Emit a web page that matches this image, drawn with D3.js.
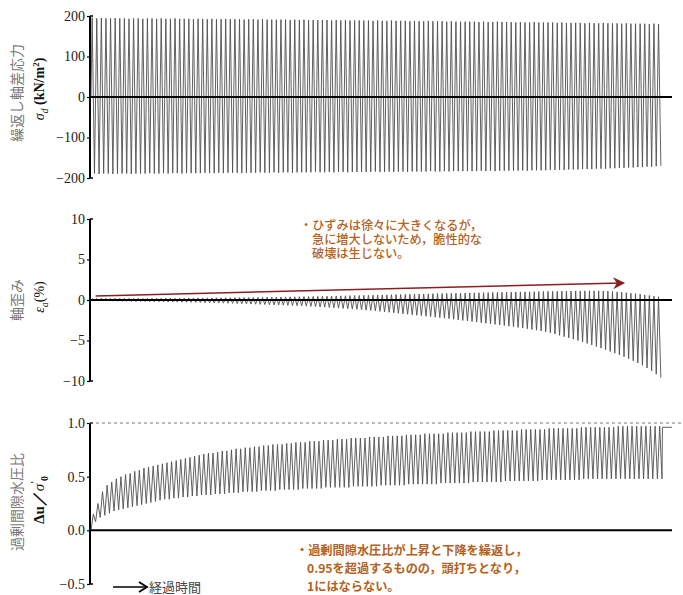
<!DOCTYPE html>
<html><head><meta charset="utf-8">
<script src="https://cdn.jsdelivr.net/npm/d3@7"></script>
<style>
body{margin:0;background:#fff;}
svg{display:block;}
</style></head>
<body><svg id="c" width="683" height="595"></svg>
<script>
// ---- data (per loading cycle) ----
const stressTicks = [200, 100, 0, -100, -200];
const strainTicks = [10, 5, 0, -5, -10];
const poreTicks = [1.0, 0.5, 0.0, -0.5];

const stressMax = [196,194,195,194,194,195,194,194,193,194,
194,193,194,194,193,194,193,193,194,193,
193,193,192,193,193,192,193,192,192,193,
192,192,192,191,192,192,191,192,191,191,
191,191,191,190,191,190,191,190,190,190,
190,190,189,190,189,190,189,189,189,189,
189,188,189,188,188,189,188,188,188,187,
188,187,187,188,187,187,187,186,187,186,
186,186,186,186,185,186,185,185,186,185,
185,185,184,185,184,184,185,184,184,184,
184,183,184,183,183,183,183,182,183,182,
182,183,182,182,182,181,182,181,181,181,
181,180,181,180];
const stressMin = [-189,-190,-189,-189,-190,-189,-189,-189,-190,-189,
-189,-189,-188,-189,-189,-188,-189,-188,-188,-189,
-188,-188,-188,-188,-187,-188,-188,-187,-188,-187,
-187,-187,-188,-187,-187,-187,-186,-187,-187,-186,
-187,-186,-186,-187,-186,-186,-186,-186,-185,-186,
-186,-185,-186,-185,-185,-186,-185,-185,-185,-185,
-185,-184,-185,-185,-184,-185,-184,-184,-185,-184,
-184,-184,-184,-183,-184,-184,-183,-184,-183,-183,
-183,-183,-183,-183,-182,-183,-182,-183,-182,-182,
-182,-182,-182,-181,-182,-181,-181,-181,-181,-180,
-180,-180,-180,-179,-179,-179,-178,-178,-178,-177,
-177,-177,-176,-176,-175,-175,-174,-174,-173,-173,
-172,-172,-171,-170];

const strainMax = [0.15,0.18,0.2,0.2,0.2,0.21,0.2,0.21,0.21,0.2,
0.21,0.21,0.22,0.21,0.22,0.22,0.22,0.23,0.22,0.23,
0.23,0.24,0.24,0.25,0.25,0.26,0.26,0.27,0.27,0.28,
0.28,0.29,0.3,0.3,0.31,0.32,0.32,0.33,0.34,0.35,
0.36,0.37,0.38,0.39,0.4,0.41,0.42,0.43,0.44,0.45,
0.46,0.47,0.48,0.5,0.51,0.52,0.54,0.55,0.56,0.58,
0.59,0.6,0.62,0.63,0.64,0.66,0.67,0.68,0.7,0.71,
0.72,0.74,0.75,0.76,0.78,0.79,0.8,0.82,0.83,0.84,
0.85,0.87,0.88,0.89,0.9,0.91,0.92,0.94,0.95,0.96,
0.97,0.98,0.99,1.0,1.01,1.02,1.03,1.04,1.05,1.06,
1.07,1.08,1.09,1.1,1.1,1.11,1.12,1.12,1.13,1.13,
1.13,1.12,1.1,1.06,1.0,0.95,0.9,0.84,0.78,0.72,
0.64,0.56,0.48,0.4];
const strainMin = [-0.05,-0.1,-0.12,-0.12,-0.14,-0.15,-0.15,-0.16,-0.17,-0.18,
-0.18,-0.19,-0.2,-0.21,-0.22,-0.23,-0.24,-0.25,-0.26,-0.27,
-0.28,-0.29,-0.3,-0.31,-0.33,-0.34,-0.36,-0.37,-0.39,-0.4,
-0.42,-0.44,-0.46,-0.48,-0.5,-0.52,-0.54,-0.56,-0.58,-0.6,
-0.62,-0.64,-0.66,-0.68,-0.7,-0.73,-0.76,-0.79,-0.82,-0.85,
-0.88,-0.92,-0.96,-1.0,-1.04,-1.08,-1.12,-1.16,-1.2,-1.25,
-1.3,-1.35,-1.4,-1.46,-1.52,-1.58,-1.64,-1.7,-1.76,-1.82,
-1.88,-1.94,-2.0,-2.06,-2.12,-2.18,-2.24,-2.31,-2.38,-2.45,
-2.52,-2.59,-2.66,-2.73,-2.8,-2.87,-2.94,-3.01,-3.08,-3.15,
-3.23,-3.31,-3.39,-3.47,-3.55,-3.64,-3.73,-3.82,-3.92,-4.05,
-4.2,-4.36,-4.52,-4.68,-4.84,-5.0,-5.18,-5.36,-5.55,-5.74,
-5.94,-6.14,-6.35,-6.56,-6.78,-7.0,-7.25,-7.5,-7.78,-8.06,
-8.4,-8.75,-9.15,-9.6];

const poreMax = [0.15,0.25,0.36,0.42,0.45,0.48,0.5,0.52,0.53,0.55,
0.56,0.58,0.59,0.6,0.61,0.62,0.63,0.64,0.65,0.66,
0.67,0.68,0.69,0.7,0.71,0.72,0.72,0.73,0.74,0.74,
0.75,0.76,0.76,0.77,0.77,0.78,0.78,0.79,0.79,0.8,
0.8,0.8,0.81,0.81,0.82,0.82,0.82,0.83,0.83,0.83,
0.84,0.84,0.84,0.85,0.85,0.85,0.86,0.86,0.86,0.86,
0.87,0.87,0.87,0.87,0.88,0.88,0.88,0.88,0.89,0.89,
0.89,0.89,0.9,0.9,0.9,0.9,0.9,0.91,0.91,0.91,
0.91,0.91,0.92,0.92,0.92,0.92,0.92,0.93,0.93,0.93,
0.93,0.93,0.93,0.94,0.94,0.94,0.94,0.94,0.94,0.95,
0.95,0.95,0.95,0.95,0.95,0.95,0.96,0.96,0.96,0.96,
0.96,0.96,0.96,0.96,0.97,0.97,0.97,0.97,0.97,0.97,
0.97,0.97,0.97,0.97];
const poreMin = [0.0,0.08,0.12,0.14,0.16,0.18,0.19,0.2,0.21,0.22,
0.23,0.24,0.25,0.26,0.27,0.28,0.29,0.29,0.3,0.3,
0.31,0.31,0.32,0.32,0.33,0.33,0.33,0.34,0.34,0.34,
0.35,0.35,0.35,0.36,0.36,0.36,0.36,0.37,0.37,0.37,
0.37,0.38,0.38,0.38,0.38,0.38,0.39,0.39,0.39,0.39,
0.39,0.4,0.4,0.4,0.4,0.4,0.4,0.41,0.41,0.41,
0.41,0.41,0.41,0.42,0.42,0.42,0.42,0.42,0.42,0.43,
0.43,0.43,0.43,0.43,0.43,0.43,0.44,0.44,0.44,0.44,
0.44,0.44,0.44,0.45,0.45,0.45,0.45,0.45,0.45,0.45,
0.46,0.46,0.46,0.46,0.46,0.46,0.46,0.46,0.47,0.47,
0.47,0.47,0.47,0.47,0.47,0.47,0.47,0.48,0.48,0.48,
0.48,0.48,0.48,0.48,0.48,0.48,0.48,0.48,0.48,0.48,
0.48,0.48,0.48,0.48];
const poreEnd = 0.96;

const nCycles = stressMax.length;

// ---- drawing ----
const svg = d3.select("#c");
const xL = 90, xR = 672, xWaveEnd = 662;
const x = d3.scaleLinear().domain([0, nCycles]).range([91, xWaveEnd]);
const xTail = d3.scaleLinear().domain([nCycles, nCycles + 2.2]).range([xWaveEnd, xR]);

const yS = d3.scaleLinear().domain([-200, 200]).range([178, 16]);
const yE = d3.scaleLinear().domain([-10, 10]).range([381, 219]);
const yP = d3.scaleLinear().domain([-0.5, 1.0]).range([584, 423]);

const minus = s => String(s).replace("-", "\u2212");
const serif = "'Liberation Serif','DejaVu Serif',serif";
const jp = "'Noto Sans CJK JP','Noto Sans',sans-serif";

function zig(maxArr, minArr, startVal) {
  const pts = [[0, startVal]];
  maxArr.forEach((v, i) => {
    pts.push([i + 0.25, v]);
    pts.push([i + 0.75, minArr[i]]);
  });
  return pts;
}
function zigPore(maxArr, minArr) {
  const pts = [];
  minArr.forEach((v, i) => {
    pts.push([i, v]);
    pts.push([i + 0.5, maxArr[i]]);
  });
  pts.push([nCycles, minArr[nCycles - 1]]);
  return pts;
}

function drawAxis(scale, ticks, fmt) {
  const g = svg.append("g").attr("transform", `translate(${xL},0)`);
  const ax = d3.axisLeft(scale).tickValues(ticks).tickSize(3).tickPadding(2).tickFormat(fmt);
  g.call(ax);
  g.attr("font-family", null);
  g.select(".domain").remove();
  g.selectAll(".tick line").attr("stroke", "#000").attr("stroke-width", 1.2);
  g.selectAll(".tick text").style("font-family", serif).style("font-size", "14px").attr("fill", "#222");
  const r = scale.range();
  g.append("line").attr("x1", 0).attr("x2", 0).attr("y1", r[1]).attr("y2", r[0])
    .attr("stroke", "#000").attr("stroke-width", 2);
  [r[0], r[1]].forEach(yy => g.append("line").attr("x1", 0).attr("x2", 3).attr("y1", yy).attr("y2", yy)
    .attr("stroke", "#000").attr("stroke-width", 1.5));
  return g;
}

const waveStroke = "#505050";
const waveW = 0.9;

// ---- top panel ----
drawAxis(yS, stressTicks, d => minus(d));
svg.append("path")
  .datum(zig(stressMax, stressMin, 0))
  .attr("fill", "none").attr("stroke", waveStroke).attr("stroke-width", waveW)
  .attr("d", d3.line().x(d => x(d[0])).y(d => yS(d[1])));
svg.append("line").attr("x1", xL).attr("x2", xR).attr("y1", yS(0)).attr("y2", yS(0))
  .attr("stroke", "#000").attr("stroke-width", 2);

// ---- middle panel ----
drawAxis(yE, strainTicks, d => minus(d));
svg.append("path")
  .datum(zig(strainMax, strainMin, 0))
  .attr("fill", "none").attr("stroke", waveStroke).attr("stroke-width", waveW)
  .attr("d", d3.line().x(d => x(d[0])).y(d => yE(d[1])));
svg.append("line").attr("x1", xL).attr("x2", xR).attr("y1", yE(0)).attr("y2", yE(0))
  .attr("stroke", "#000").attr("stroke-width", 2);

// trend arrow
const arrowStart = [1, 0.5], arrowEnd = [116, 2.1];
svg.append("line")
  .attr("x1", x(arrowStart[0])).attr("y1", yE(arrowStart[1]))
  .attr("x2", x(arrowEnd[0]) - 4).attr("y2", yE(arrowEnd[1]))
  .attr("stroke", "#8a1f1f").attr("stroke-width", 1.6);
svg.append("path")
  .attr("d", (() => {
    const x2 = x(arrowEnd[0]), y2 = yE(arrowEnd[1]);
    const ang = Math.atan2(yE(arrowEnd[1]) - yE(arrowStart[1]), x(arrowEnd[0]) - x(arrowStart[0]));
    const L = 12, W = 6;
    const bx = x2 - L * Math.cos(ang), by = y2 - L * Math.sin(ang);
    const px = -Math.sin(ang) * W, py = Math.cos(ang) * W;
    const ix = x2 - 0.7 * L * Math.cos(ang), iy = y2 - 0.7 * L * Math.sin(ang);
    return `M${x2},${y2} L${bx + px},${by + py} L${ix},${iy} L${bx - px},${by - py} Z`;
  })())
  .attr("fill", "#8a1f1f");

// ---- bottom panel ----
drawAxis(yP, poreTicks, d => minus(d3.format(".1f")(d)));
svg.append("line").attr("x1", xL).attr("x2", 683).attr("y1", yP(1)).attr("y2", yP(1))
  .attr("stroke", "#777").attr("stroke-width", 1).attr("stroke-dasharray", "3,3");
const porePts = zigPore(poreMax, poreMin);
svg.append("path")
  .datum(porePts)
  .attr("fill", "none").attr("stroke", waveStroke).attr("stroke-width", waveW)
  .attr("d", d3.line().x(d => x(d[0])).y(d => yP(d[1])));
svg.append("path")
  .datum([[nCycles, poreMin[nCycles - 1]], [nCycles + 0.1, poreEnd], [nCycles + 2.2, poreEnd]])
  .attr("fill", "none").attr("stroke", waveStroke).attr("stroke-width", waveW)
  .attr("d", d3.line().x(d => d[0] <= nCycles ? x(d[0]) : xTail(d[0])).y(d => yP(d[1])));
svg.append("line").attr("x1", xL).attr("x2", xR).attr("y1", yP(0)).attr("y2", yP(0))
  .attr("stroke", "#000").attr("stroke-width", 2);

// ---- y-axis titles ----
function vlabel(xc, yc, build) {
  const t = svg.append("text").attr("transform", `translate(${xc},${yc}) rotate(-90)`)
    .attr("text-anchor", "middle");
  build(t);
}
vlabel(22, 93, t => t.attr("font-family", jp).attr("font-size", 14).attr("fill", "#777").text("繰返し軸差応力"));
vlabel(44, 89, t => {
  t.attr("font-family", serif).attr("font-size", 14).attr("fill", "#111");
  t.append("tspan").attr("font-style", "italic").text("σ");
  t.append("tspan").attr("font-style", "italic").attr("font-size", 10).attr("dy", 4).text("d");
  t.append("tspan").attr("dy", -4).attr("font-weight", "bold").text(" (kN/m");
  t.append("tspan").attr("font-weight", "bold").attr("font-size", 9).attr("dy", -5).text("2");
  t.append("tspan").attr("font-weight", "bold").attr("dy", 5).text(")");
});
vlabel(22, 300, t => t.attr("font-family", jp).attr("font-size", 14).attr("fill", "#777").text("軸歪み"));
vlabel(44, 297, t => {
  t.attr("font-family", serif).attr("font-size", 14).attr("fill", "#111");
  t.append("tspan").attr("font-style", "italic").text("ε");
  t.append("tspan").attr("font-style", "italic").attr("font-size", 10).attr("dy", 4).text("a");
  t.append("tspan").attr("dy", -4).text("(%)");
});
vlabel(22, 502, t => t.attr("font-family", jp).attr("font-size", 14).attr("fill", "#777").text("過剰間隙水圧比"));
vlabel(44, 500, t => {
  t.attr("font-family", serif).attr("font-size", 15).attr("fill", "#111").attr("font-weight", "bold");
  t.append("tspan").text("Δu／");
  t.append("tspan").attr("font-style", "italic").attr("font-weight", "normal").text("σ");
  t.append("tspan").attr("font-size", 10).attr("dy", -6).text("'");
  t.append("tspan").attr("font-size", 10).attr("dy", 10).text("0");
});

// ---- annotations ----
const noteColor = "#b4611c";
const note1 = ["・ひずみは徐々に大きくなるが，", "急に増大しないため，脆性的な", "破壊は生じない。"];
const t1 = svg.append("text").attr("font-family", jp).attr("font-size", 12.2).attr("font-weight", 500)
  .attr("fill", noteColor);
note1.forEach((s, i) => {
  t1.append("tspan").attr("x", i === 0 ? 300 : 312).attr("y", 230 + i * 14).text(s);
});
const note2 = ["・過剰間隙水圧比が上昇と下降を繰返し，", "0.95を超過するものの，頭打ちとなり，", "1にはならない。"];
const t2 = svg.append("text").attr("font-family", jp).attr("font-size", 12.2).attr("font-weight", "bold")
  .attr("fill", noteColor);
note2.forEach((s, i) => {
  t2.append("tspan").attr("x", i === 0 ? 296 : 307).attr("y", 555 + i * 18).text(s);
});

// elapsed time arrow
svg.append("line").attr("x1", 113).attr("x2", 146).attr("y1", 587).attr("y2", 587)
  .attr("stroke", "#000").attr("stroke-width", 1.5);
svg.append("path").attr("d", "M139,582 L147,587 L139,592").attr("fill", "none")
  .attr("stroke", "#000").attr("stroke-width", 1.8);
svg.append("text").attr("x", 149).attr("y", 592).attr("font-family", jp).attr("font-size", 13)
  .attr("fill", "#444").text("経過時間");
</script></body></html>
